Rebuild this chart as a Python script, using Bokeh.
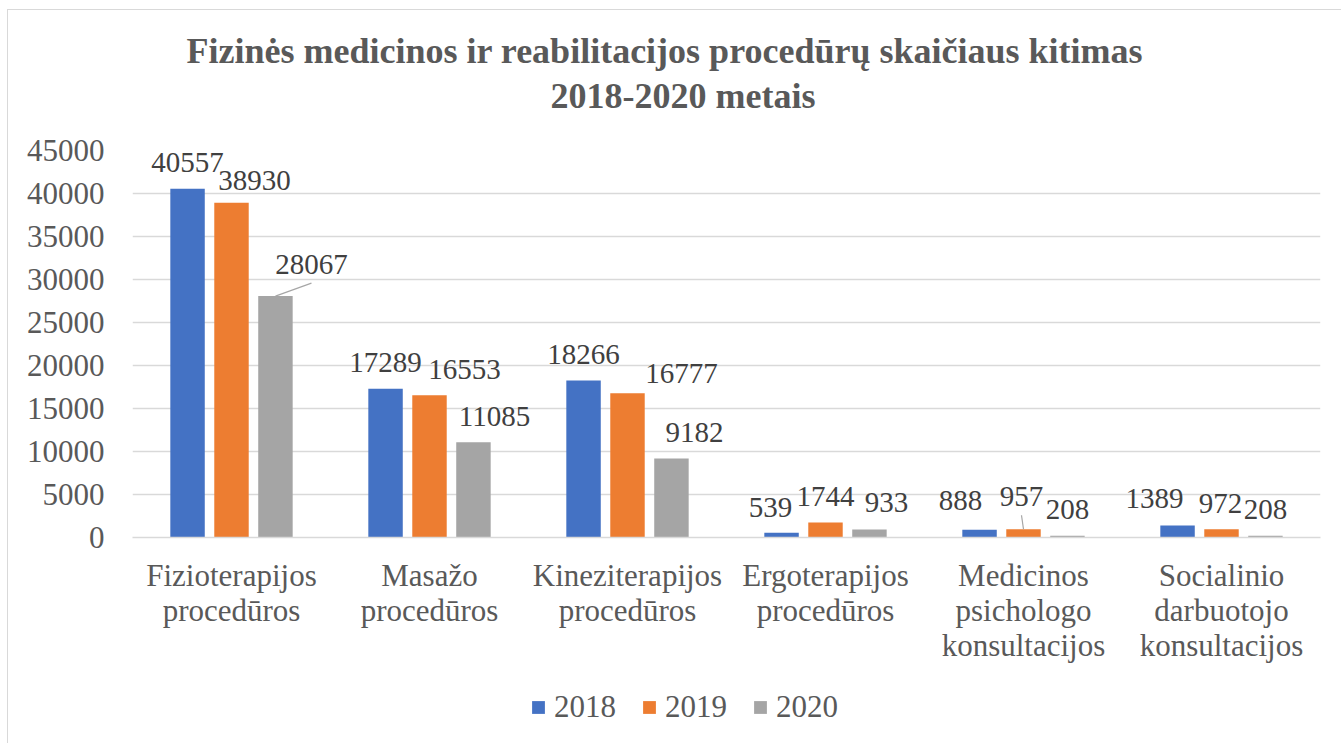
from bokeh.plotting import figure
from bokeh.layouts import column
from bokeh.models import (FactorRange, ColumnDataSource, Legend, LegendItem, Title,
                          FixedTicker, Range1d)
from bokeh.transform import dodge
from bokeh.embed import file_html
from bokeh.resources import INLINE
from bokeh.core.properties import value

# ---------------- data ----------------
categories = ["Fizioterapijos\nprocedūros", "Masažo\nprocedūros", "Kineziterapijos\nprocedūros",
              "Ergoterapijos\nprocedūros", "Medicinos\npsichologo\nkonsultacijos",
              "Socialinio\ndarbuotojo\nkonsultacijos"]
years = ["2018", "2019", "2020"]
values_2018 = [40557, 17289, 18266, 539, 888, 1389]
values_2019 = [38930, 16553, 16777, 1744, 957, 972]
values_2020 = [28067, 11085, 9182, 933, 208, 208]
y_ticks = [0, 5000, 10000, 15000, 20000, 25000, 30000, 35000, 40000, 45000]
title_lines = ["Fizinės medicinos ir reabilitacijos procedūrų skaičiaus kitimas", "2018-2020 metais"]

# label nudges in screen pixels (style: avoid overlaps like the original)
dx_2018 = [0, 0, 0, -11, -19, -23]
gap_2018 = [18, 18, 18, 17, 21, 19]
dx_2019 = [23, 35, 54, 0, -2, -1]
gap_2019 = [14, 18, 12, 18, 25, 18]
dx_2020 = [36, 21, 23, 17, 0, 0]
gap_2020 = [24, 18, 18, 19, 18, 18]
leader_2018 = [False] * 6
leader_2019 = [False, False, False, False, True, False]
leader_2020 = [True, False, False, False, False, False]
BASE_LIFT = 8  # renderer places alphabetic baseline slightly low

colors = ["#4472C4", "#ED7D31", "#A5A5A5"]
offsets = [-0.222, 0.0, 0.222]
bar_w = 0.174

FONT = "Liberation Serif"
W = 1334
H_MAIN, H_LEG = 667, 67
BL, BR, BT, BB = 124, 22, 140, 140
frame_w = W - BL - BR
frame_h = H_MAIN - BT - BB
ymax = 45000
px_per_unit_y = frame_h / ymax
px_per_cat = frame_w / len(categories)

p = figure(width=W, height=H_MAIN, x_range=FactorRange(factors=categories, range_padding=0),
           y_range=Range1d(0, ymax), output_backend="svg", toolbar_location=None,
           min_border_left=BL, min_border_right=BR, min_border_top=BT, min_border_bottom=BB,
           styles={"margin-left": "7px", "margin-top": "9px",
                   "border-left": "1px solid #d9d9d9", "border-top": "1px solid #d9d9d9"})
p.outline_line_color = None
p.background_fill_color = "white"
p.border_fill_color = "white"

p.xgrid.grid_line_color = None
p.ygrid.grid_line_color = "#d9d9d9"
p.ygrid.grid_line_width = 1.5

p.yaxis.ticker = FixedTicker(ticks=y_ticks)
p.yaxis.axis_line_color = None
p.yaxis.major_tick_line_color = None
p.yaxis.minor_tick_line_color = None
p.yaxis.major_tick_out = 0
p.yaxis.major_label_standoff = 28
p.yaxis.major_label_text_font = FONT
p.yaxis.major_label_text_font_size = "31px"
p.yaxis.major_label_text_color = "#595959"

p.xaxis.axis_line_color = "#d9d9d9"
p.xaxis.axis_line_width = 1.5
p.xaxis.major_tick_line_color = None
p.xaxis.major_tick_out = 0
p.xaxis.major_label_standoff = 20
p.xaxis.major_label_text_font = FONT
p.xaxis.major_label_text_font_size = "31px"
p.xaxis.major_label_text_color = "#595959"
p.xaxis.major_label_text_line_height = 1.0

series = [
    (values_2018, dx_2018, gap_2018, leader_2018),
    (values_2019, dx_2019, gap_2019, leader_2019),
    (values_2020, dx_2020, gap_2020, leader_2020),
]

for k, (vals, dxs, gaps, leads) in enumerate(series):
    src = ColumnDataSource(dict(cat=categories, v=vals, lbl=[str(v) for v in vals],
                                dx=dxs, dy=[-(g + BASE_LIFT) for g in gaps]))
    p.vbar(x=dodge("cat", offsets[k], range=p.x_range), top="v", width=bar_w, bottom=0,
           source=src, fill_color=colors[k], line_color=None)
    p.text(x=dodge("cat", offsets[k], range=p.x_range), y="v", text="lbl", source=src,
           x_offset="dx", y_offset="dy", text_align="center", text_baseline="alphabetic",
           text_font=value(FONT), text_font_size="29px", text_color="#404040")
    # leader lines for displaced labels
    x0, y0, x1, y1 = [], [], [], []
    for i, (v, dx, g, ld) in enumerate(zip(vals, dxs, gaps, leads)):
        if ld:
            xc = i + 0.5 + offsets[k]
            x0.append(xc)
            y0.append(v)
            x1.append(xc + dx / px_per_cat)
            y1.append(v + (g - 11) / px_per_unit_y)
    if x0:
        p.segment(x0=x0, y0=y0, x1=x1, y1=y1, line_color="#a6a6a6", line_width=1.2)

# second line first: later titles are stacked further from the plot
p.add_layout(Title(text=" ", text_font_size="26px", standoff=0), "above")
for t, off, so in zip(reversed(title_lines), [418, 54], [6, 0]):
    p.add_layout(Title(text=t, align="left", offset=off, text_font=FONT,
                       text_font_size="36px", text_font_style="bold",
                       text_color="#595959", standoff=so), "above")

# legend strip under the chart (its frame is aligned with the chart's frame)
lg = figure(width=W, height=H_LEG, x_range=Range1d(0, 1), y_range=Range1d(0, 1),
            output_backend="svg", toolbar_location=None, min_border=0,
            styles={"margin-left": "7px", "border-left": "1px solid #d9d9d9"})
lg.axis.visible = False
lg.grid.visible = False
lg.outline_line_color = None
items = []
for k in range(3):
    # zero-height proxy bar: only its colour is used by the legend swatch
    r = lg.vbar(x=[0.5], top=[0], bottom=[0], width=0.01, fill_color=colors[k], line_color=None)
    items.append(LegendItem(label=years[k], renderers=[r]))
legend = Legend(items=items, orientation="horizontal", location=(398, 18),
                glyph_width=16, glyph_height=16, label_standoff=8, spacing=25,
                padding=0, margin=0, border_line_color=None, background_fill_alpha=0,
                label_text_font=FONT, label_text_font_size="31px", label_text_color="#595959")
lg.add_layout(legend, "center")

open("out.html", "w").write(file_html(column(p, lg, spacing=0), INLINE))
